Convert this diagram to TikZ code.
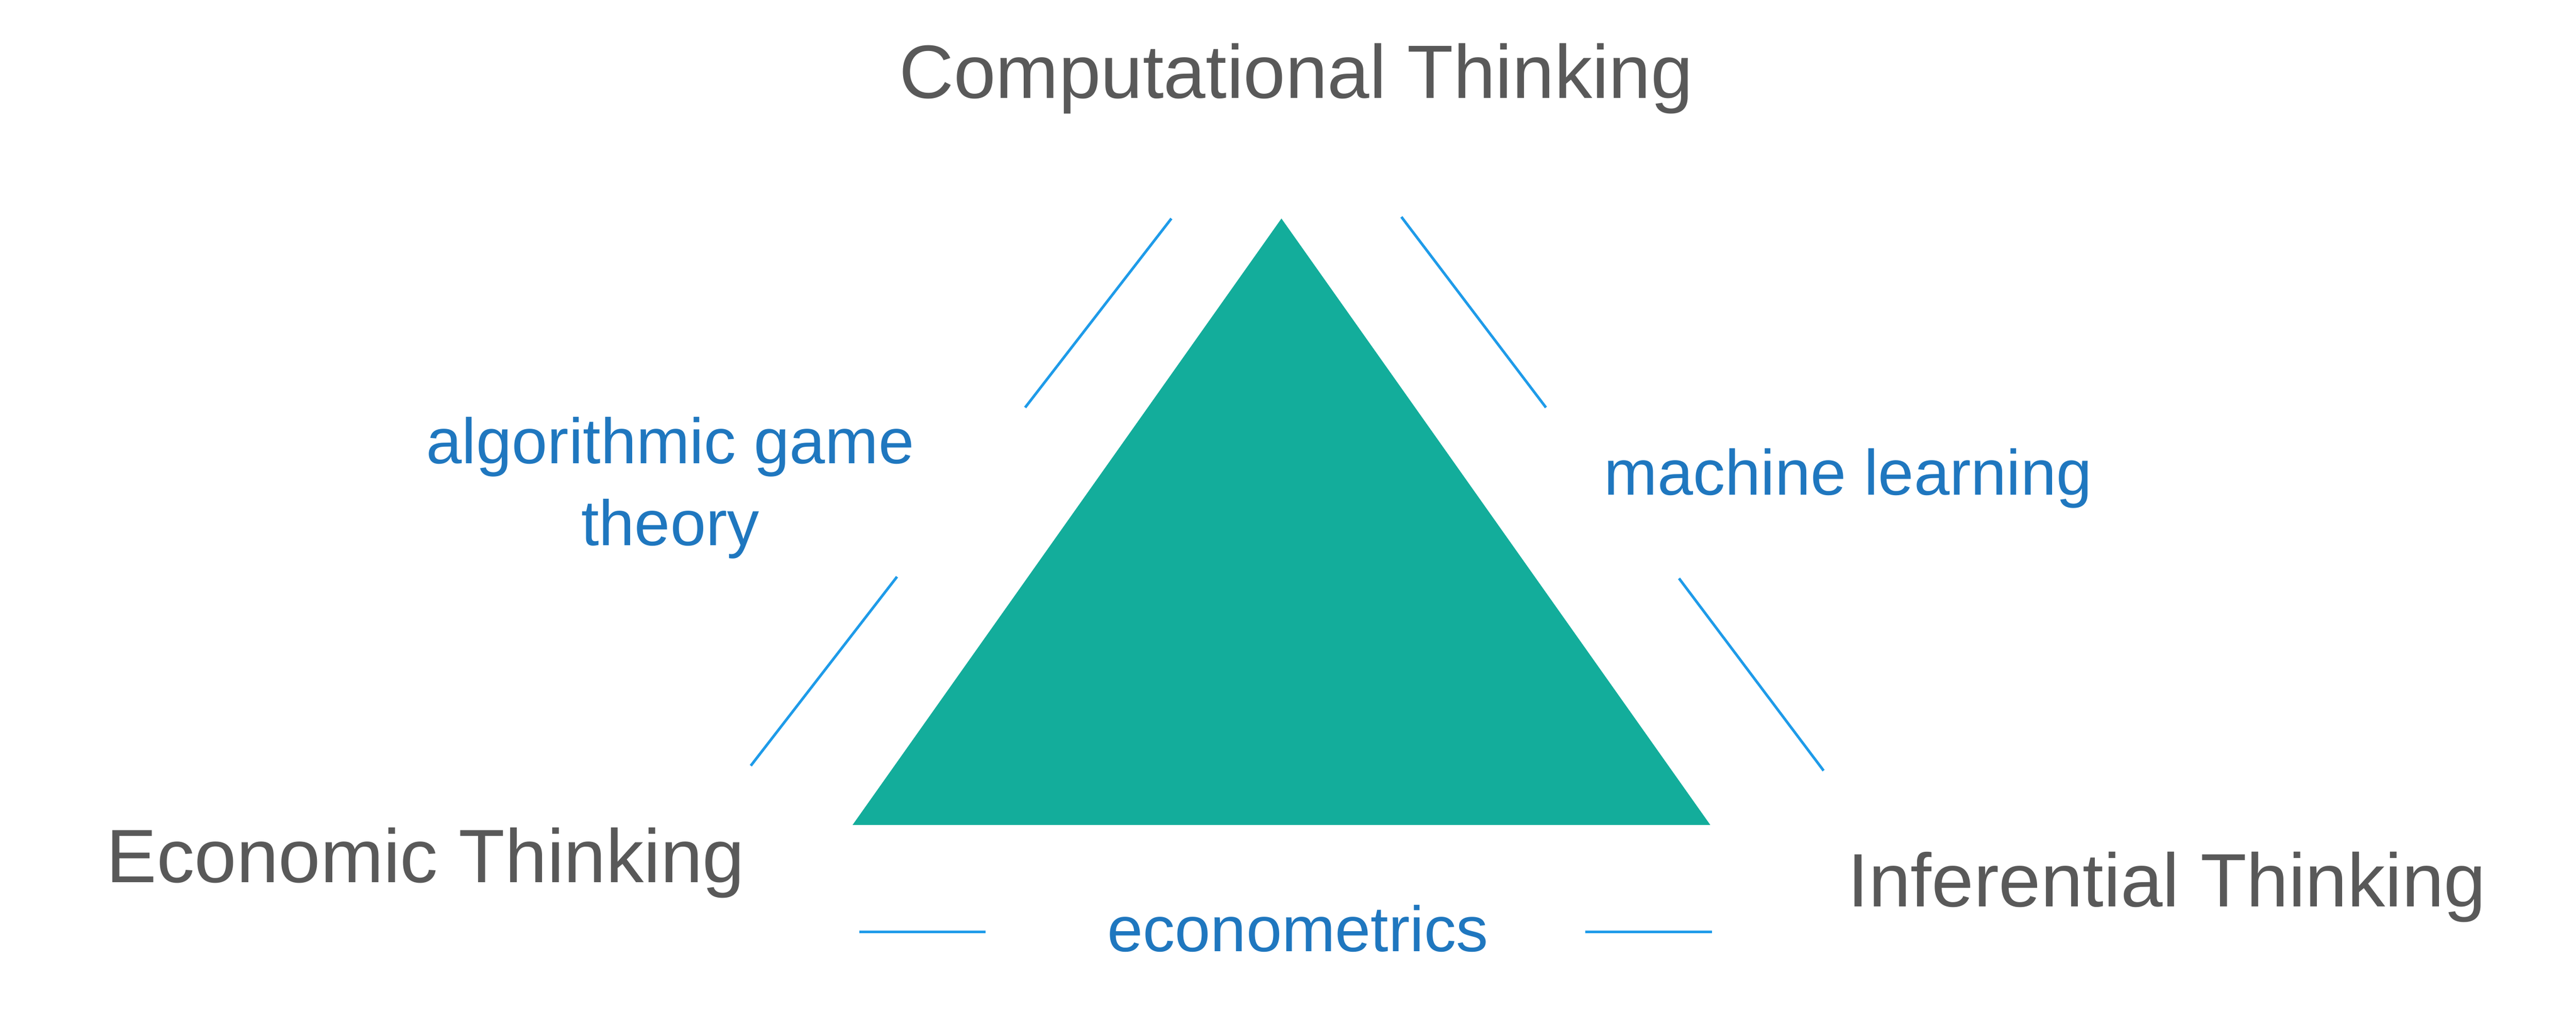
\documentclass[tikz,border=0pt]{standalone}
\usepackage{fontspec}
\setmainfont{Liberation Sans}
\definecolor{teal1}{HTML}{13AD9B}
\definecolor{lineblue}{HTML}{1E9BE9}
\definecolor{txtblue}{HTML}{1F77BF}
\definecolor{txtgray}{HTML}{595959}
\begin{document}
\begin{tikzpicture}[x=1pt,y=-1pt,
  big/.style={text=txtgray,font=\fontsize{46}{52}\selectfont},
  lbl/.style={text=txtblue,font=\fontsize{39}{50}\selectfont,align=center},
  conn/.style={draw=lineblue,line width=1.6pt}]
\useasboundingbox (0,0) rectangle (1568,615);
\fill[teal1] (780,133) -- (519,502) -- (1041,502) -- cycle;
\node[big] (ct) at (789,48) {Computational Thinking};
\node[big] (et) at (259,525) {Economic Thinking};
\node[big] (it) at (1319,540) {Inferential Thinking};
\node[lbl] (agt) at (408,297) {algorithmic game\\theory};
\node[lbl] (ml) at (1125,291) {machine learning};
\node[lbl] (em) at (790,565) {econometrics};
\coordinate (a1) at (713,133); \coordinate (a2) at (624,248);
\coordinate (b1) at (546,351); \coordinate (b2) at (457,466);
\coordinate (c1) at (853,132); \coordinate (c2) at (941,248);
\coordinate (d1) at (1022,352); \coordinate (d2) at (1110,469);
\coordinate (e1) at (523,567); \coordinate (e2) at (600,567);
\coordinate (f1) at (965,567); \coordinate (f2) at (1042,567);
\draw[conn] (a1)--(a2); \draw[conn] (b1)--(b2);
\draw[conn] (c1)--(c2); \draw[conn] (d1)--(d2);
\draw[conn] (e1)--(e2); \draw[conn] (f1)--(f2);
\end{tikzpicture}
\end{document}
